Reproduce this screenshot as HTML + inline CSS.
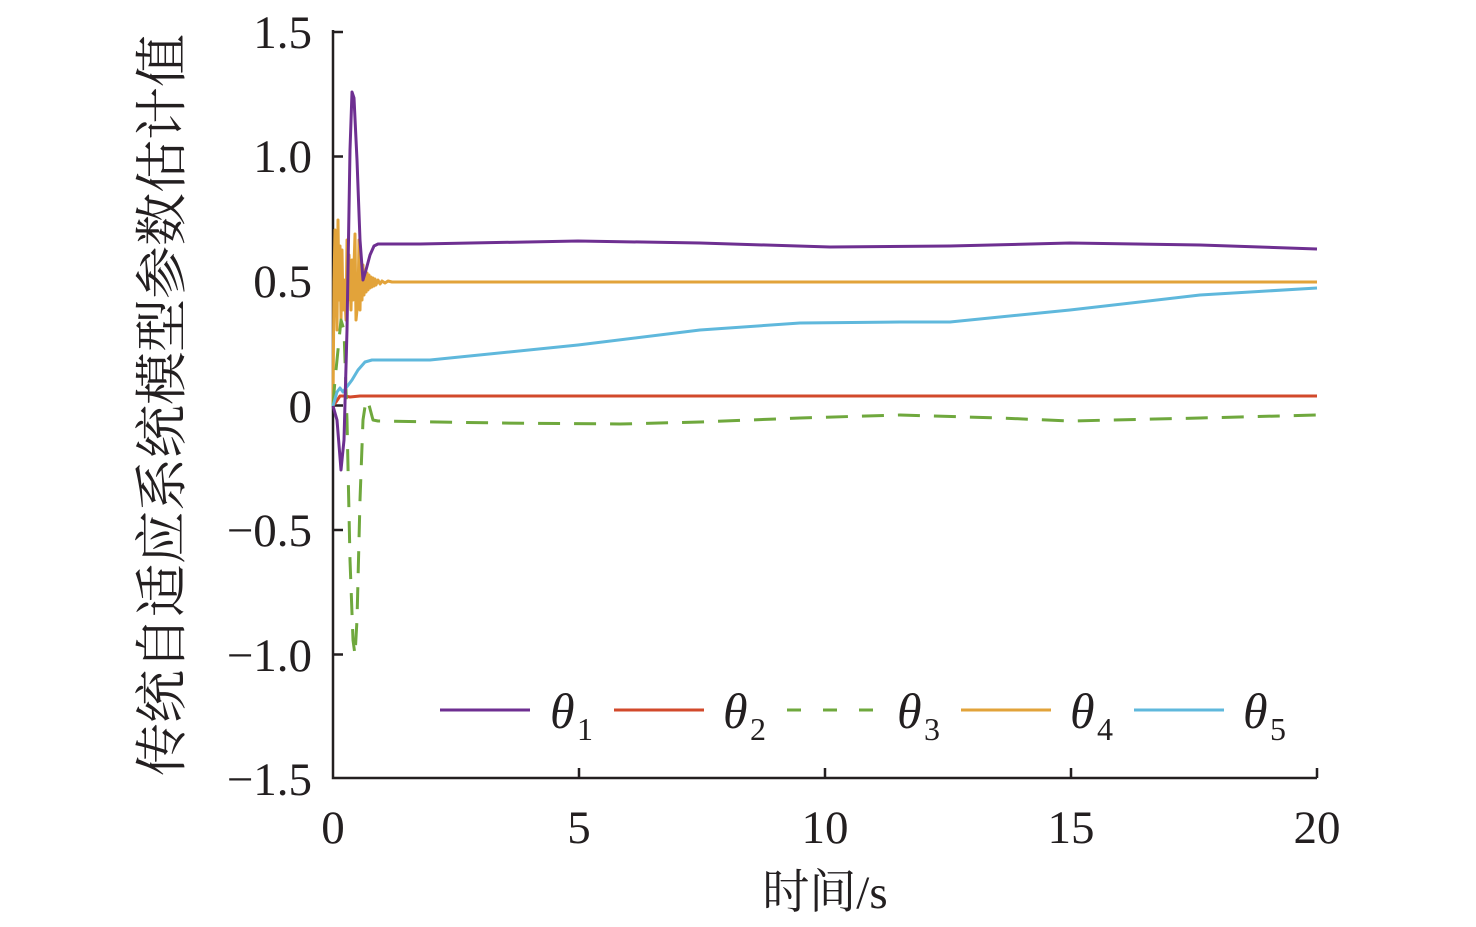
<!DOCTYPE html>
<html><head><meta charset="utf-8"><style>
body{margin:0;background:#fff}
svg{display:block}
text{font-family:"Liberation Serif","Noto Serif CJK SC",serif;fill:#231f20}
</style></head><body>
<svg width="1476" height="927" viewBox="0 0 1476 927" xmlns="http://www.w3.org/2000/svg">
<g stroke="#231f20" stroke-width="2.5" fill="none">
<path d="M333,30 V778 H1317"/>
<path d="M333,32 h10 M333,156.5 h10 M333,281 h10 M333,405.5 h10 M333,530 h10 M333,654.5 h10"/>
<path d="M579,778 v-10 M825,778 v-10 M1071,778 v-10 M1317,778 v-10"/>
</g>
<g font-size="47" text-anchor="end">
<text x="312" y="48">1.5</text>
<text x="312" y="172">1.0</text>
<text x="312" y="297">0.5</text>
<text x="312" y="422">0</text>
<text x="312" y="546">−0.5</text>
<text x="312" y="671">−1.0</text>
<text x="312" y="795">−1.5</text>
</g>
<g font-size="47" text-anchor="middle">
<text x="333" y="843">0</text>
<text x="579" y="843">5</text>
<text x="825" y="843">10</text>
<text x="1071" y="843">15</text>
<text x="1317" y="843">20</text>
<text x="825" y="908">时间/s</text>
</g>
<text font-size="53" text-anchor="middle" transform="translate(180,405) rotate(-90)">传统自适应系统模型参数估计值</text>
<g fill="none" stroke-width="3" stroke-linejoin="round">
<polyline stroke="#e2a33a" points="333,406 334,282 335,230 337,330 338,220 339,300 340,246 341,320 342,250 343,310 344,280 346,320 347,240 348,300 349,255 351,310 352,260 353,300 355,234 356,320 358,300 359,240 360,310 361,260 362,300 363,265 364,295 365,270 366,292 367,273 368,290 369,275 370,288 371,277 372,287 373,278 374,286 375,279 376,285 378,280 380,284 382,281 385,283 388,281 392,282 1317,282"/>
<polyline stroke="#d2492b" points="333,406 336,402 340,396 345,396 350,397 360,396 1317,396"/>
<polyline stroke="#6fa83d" stroke-dasharray="22,14" points="333,406 335,380 338,350 341,320 344,330 347,420 350,560 353,640 355,655 357,620 360,500 363,420 366,400 369,405 373,420 378,421 500,423 620,424 700,422 800,418 900,415 1000,418 1070,421 1200,418 1317,415"/>
<polyline stroke="#5fb8dc" points="333,406 337,392 340,388 343,392 346,388 352,380 358,370 365,362 372,360 430,360 578,345 700,330 800,323 900,322 950,322 1070,310 1200,295 1317,288"/>
<polyline stroke="#6e2f91" points="333,406 337,420 341,470 344,440 347,330 350,150 352,92 354,98 357,160 360,240 363,280 366,270 370,255 374,246 378,244 420,244 578,241 700,243 830,247 950,246 1070,243 1200,245 1317,249"/>
<line x1="440" y1="710" x2="530" y2="710" stroke="#6e2f91"/>
<line x1="614" y1="710" x2="704" y2="710" stroke="#d2492b"/>
<line x1="787" y1="710" x2="877" y2="710" stroke="#6fa83d" stroke-dasharray="14,22"/>
<line x1="961" y1="710" x2="1051" y2="710" stroke="#e2a33a"/>
<line x1="1134" y1="710" x2="1224" y2="710" stroke="#5fb8dc"/>
</g>
<g font-size="50" font-style="italic">
<text x="550" y="728">θ</text><text x="577" y="740" font-size="32" font-style="normal">1</text>
<text x="723" y="728">θ</text><text x="750" y="740" font-size="32" font-style="normal">2</text>
<text x="897" y="728">θ</text><text x="924" y="740" font-size="32" font-style="normal">3</text>
<text x="1070" y="728">θ</text><text x="1097" y="740" font-size="32" font-style="normal">4</text>
<text x="1243" y="728">θ</text><text x="1270" y="740" font-size="32" font-style="normal">5</text>
</g>
</svg>
</body></html>
